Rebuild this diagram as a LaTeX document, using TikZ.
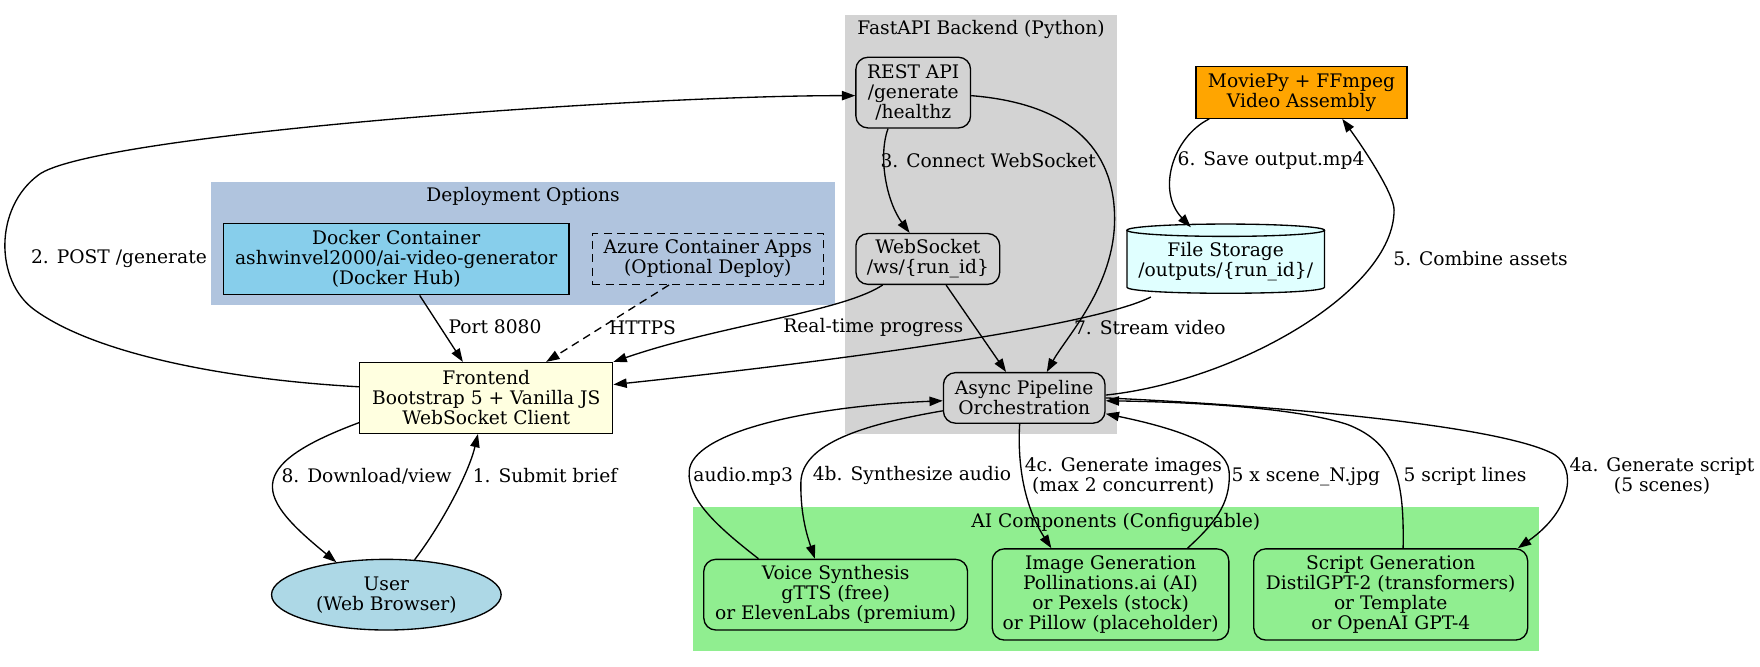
\documentclass[tikz,border=0pt]{standalone}
\usepackage{fontspec}
\setmainfont{DejaVu Serif}
\usetikzlibrary{arrows.meta,shapes.geometric}
\definecolor{clgray}{HTML}{D3D3D3}
\definecolor{clsteel}{HTML}{B0C4DE}
\definecolor{clgreen}{HTML}{90EE90}
\definecolor{skyb}{HTML}{87CEEB}
\definecolor{orng}{HTML}{FFA500}
\definecolor{lcyan}{HTML}{E0FFFF}
\definecolor{lyellow}{HTML}{FFFFE0}
\definecolor{lblue}{HTML}{ADD8E6}
\begin{document}
\begin{tikzpicture}[x=0.8418pt,y=-0.8418pt,
  every node/.style={font=\fontsize{14pt}{15pt}\selectfont},
  box/.style={draw=black,line width=1pt,inner sep=0pt,align=center},
  rbox/.style={box,rounded corners=9pt},
  lbl/.style={inner sep=0pt,align=center},
  conn/.style={line width=1pt,-{Triangle[length=10pt,width=7pt]}},
  dconn/.style={conn,dash pattern=on 6pt off 4pt}]
\useasboundingbox (0,0) rectangle (1568,594.2);
\fill[white] (0,0) rectangle (1568,594.2);
% clusters
\fill[clgray] (753,13.4) rectangle (995,387);
\fill[clsteel] (188,162) rectangle (744,272);
\fill[clgreen] (617,452) rectangle (1371,580);
\node[lbl] (cfast) at (874,26.7) {FastAPI Backend (Python)};
\node[lbl] (cdep) at (466,175.2) {Deployment Options};
\node[lbl] (cai) at (994,465.7) {AI Components (Configurable)};
% nodes
\node[rbox,fill=clgray,minimum width=86pt,minimum height=53pt] (rest) at (813.6,82.5) {REST API\\/generate\\/healthz};
\node[rbox,fill=clgray,minimum width=107.8pt,minimum height=38.1pt] (ws) at (826.6,230.7) {WebSocket\\/ws/\{run\_id\}};
\node[rbox,fill=clgray,minimum width=121.2pt,minimum height=37.9pt] (async) at (912.5,354.5) {Async Pipeline\\Orchestration};
\node[box,fill=orng,minimum width=158.3pt,minimum height=38.7pt] (movie) at (1159.5,82.4) {MoviePy + FFmpeg\\Video Assembly};
% file storage cylinder
\fill[lcyan] (1092,255.8) ellipse[x radius=88,y radius=5.5];
\fill[lcyan] (1004,205.1) rectangle (1180,255.8);
\draw[line width=1pt] (1004,205.1) -- (1004,255.8) .. controls (1004,263.1) and (1180,263.1) .. (1180,255.8) -- (1180,205.1);
\filldraw[fill=lcyan,line width=1pt] (1092,205.1) ellipse[x radius=88,y radius=5.5];
\node[lbl,minimum width=148.2pt,minimum height=51.9pt] (file) at (1092,233.5) {File Storage\\/outputs/\{run\_id\}/};
\node[box,fill=skyb,minimum width=259.3pt,minimum height=53.2pt] (docker) at (353,231) {Docker Container\\ashwinvel2000/ai-video-generator\\(Docker Hub)};
\node[box,fill=clsteel,dash pattern=on 6pt off 4pt,minimum width=173.1pt,minimum height=38.2pt] (azure) at (630.6,230.6) {Azure Container Apps\\(Optional Deploy)};
\node[box,fill=lyellow,minimum width=189.7pt,minimum height=53pt] (front) at (433.2,354.5) {Frontend\\Bootstrap 5 + Vanilla JS\\WebSocket Client};
\node[box,ellipse,fill=lblue,minimum width=172.2pt,minimum height=53pt] (user) at (344.2,529.8) {User\\(Web Browser)};
\node[rbox,fill=clgreen,minimum width=197.8pt,minimum height=53pt] (voice) at (744.5,529.8) {Voice Synthesis\\gTTS (free)\\or ElevenLabs (premium)};
\node[rbox,fill=clgreen,minimum width=177.4pt,minimum height=68.4pt] (image) at (989.4,529.6) {Image Generation\\Pollinations.ai (AI)\\or Pexels (stock)\\or Pillow (placeholder)};
\node[rbox,fill=clgreen,minimum width=205.4pt,minimum height=68.4pt] (script) at (1239,529.6) {Script Generation\\DistilGPT-2 (transformers)\\or Template\\or OpenAI GPT-4};
% edges
\draw[conn] (user.51) .. controls (395,465) and (418,420) .. (front.-103);
\draw[conn] (front.191) .. controls (214,416) and (230,444) .. (user.147);
\draw[conn] (front.175.7) .. controls (200,338) and (84.3,315) .. (30.7,276) .. controls (-5,250) and (-5,185) .. (34.1,156) .. controls (80,120) and (564,85) .. (rest.183.4);
\draw[conn] (docker.-57.2) -- (front.123.9);
\draw[dconn] (azure.214.4) -- (front.31.7);
\draw[conn] (rest.-125.7) .. controls (782,140) and (790,180) .. (ws.125.8);
\draw[conn] (rest.-3.4) .. controls (950,92) and (993,130) .. (993,195) .. controls (993,255) and (950,300) .. (async.49.8);
\draw[conn] (ws.210.7) .. controls (750,278) and (640,290) .. (front.north east);
\draw[conn] (ws.-55.8) -- (async.125.4);
\draw[conn] (file.205.6) .. controls (975,290) and (760,320) .. (front.6.6);
\draw[conn] (movie.196.8) .. controls (1045,122) and (1030,170) .. (file.135.1);
\draw[conn] (async.2) .. controls (1100,340) and (1242,260) .. (1242,187) .. controls (1242,172) and (1212,128) .. (movie.-33.7);
\draw[conn] (async.189.7) .. controls (770,378) and (714,395) .. (713.5,430) .. controls (713,460) and (720,480) .. (voice.120.8);
\draw[conn] (voice.155.2) .. controls (640,470) and (612,445) .. (614,420) .. controls (616,385) and (720,362) .. (async.182.7);
\draw[conn] (async.-100.8) .. controls (906,420) and (915,455) .. (image.142.3);
\draw[conn] (image.31.7) .. controls (1080,468) and (1097,450) .. (1095,420) .. controls (1093,395) and (1040,380) .. (async.-11.9);
\draw[conn] (script.75.5) .. controls (1251,430) and (1245,395) .. (1200,378) .. controls (1150,362) and (1050,358) .. (async.-2);
\draw[conn] (async.0) .. controls (1150,362) and (1340,380) .. (1385,405) .. controls (1405,418) and (1400,455) .. (script.20);
% labels
\node[lbl] (l1) at (485.6,424) {1. Submit brief};
\node[lbl] (l8) at (326.6,424) {8. Download/view};
\node[lbl] (l2) at (106,230.2) {2. POST /generate};
\node[lbl] (lport) at (441,291) {Port 8080};
\node[lbl] (lhttps) at (572.5,291.6) {HTTPS};
\node[lbl] (l3) at (880.4,143.2) {3. Connect WebSocket};
\node[lbl] (lrt) at (778,292) {Real-time progress};
\node[lbl] (l7) at (1024.4,292) {7. Stream video};
\node[lbl] (l6) at (1132.4,143.2) {6. Save output.mp4};
\node[lbl] (l5) at (1319,230.2) {5. Combine assets};
\node[lbl] (laudio) at (662.1,424.5) {audio.mp3};
\node[lbl] (l4b) at (812.5,424) {4b. Synthesize audio};
\node[lbl] (l4c) at (1000.8,423.8) {4c. Generate images\\(max 2 concurrent)};
\node[lbl] (lscene) at (1163.4,424.5) {5 x scene\_N.jpg};
\node[lbl] (llines) at (1305.2,424.5) {5 script lines};
\node[lbl] (l4a) at (1480.7,423.8) {4a. Generate script\\(5 scenes)};
\end{tikzpicture}
\end{document}
